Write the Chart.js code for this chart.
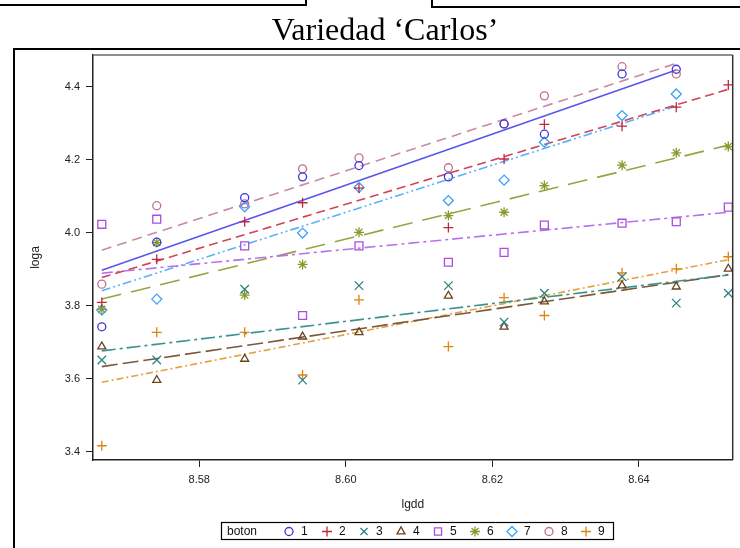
<!DOCTYPE html>
<html><head><meta charset="utf-8">
<script src="https://cdn.jsdelivr.net/npm/chart.js@4.4.1/dist/chart.umd.min.js"></script>
<style>html,body{margin:0;padding:0;background:#fff}#wrap{width:740px;height:548px;position:relative}canvas{display:block}</style>
</head><body><div id="wrap"><canvas id="c" width="740" height="548"></canvas></div>
<script>
// ---- data ----
const lgdd = [8.5667, 8.5742, 8.5862, 8.5941, 8.6018, 8.6140, 8.6216, 8.6271, 8.6377, 8.6451, 8.6522];
const boton1 = [3.742, 3.974, 4.096, 4.153, 4.184, 4.153, 4.298, 4.270, 4.435, 4.448, null];
const boton2 = [3.809, 3.927, 4.030, 4.082, 4.122, 4.014, 4.202, 4.297, 4.292, 4.344, 4.405];
const boton3 = [3.651, 3.651, 3.845, 3.596, 3.855, 3.855, 3.755, 3.834, 3.879, 3.807, 3.834];
const boton4 = [3.688, 3.596, 3.654, 3.715, 3.727, 3.827, 3.742, 3.811, 3.855, 3.852, 3.901];
const boton5 = [4.023, 4.037, 3.964, 3.773, 3.964, 3.919, 3.946, 4.021, 4.026, 4.030, 4.070];
const boton6 = [3.790, 3.973, 3.829, 3.913, 4.001, 4.047, 4.056, 4.129, 4.185, 4.219, 4.236];
const boton7 = [3.788, 3.818, 4.071, 3.999, 4.124, 4.088, 4.144, 4.248, 4.321, 4.380, null];
const boton8 = [3.859, 4.074, 4.079, 4.175, 4.205, 4.178, 4.298, 4.375, 4.455, 4.435, null];
const boton9 = [3.416, 3.727, 3.727, 3.610, 3.816, 3.688, 3.822, 3.773, 3.890, 3.901, 3.934];
const botonLabels = ['1', '2', '3', '4', '5', '6', '7', '8', '9'];
// fitted regression lines: value at first and last lgdd of each group
const fitStart = [3.897, 3.877, 3.676, 3.633, 3.889, 3.818, 3.841, 3.952, 3.590];
const fitEnd   = [4.446, 4.393, 3.884, 3.885, 4.056, 4.240, 4.347, 4.464, 3.926];
const yTicks = [3.4, 3.6, 3.8, 4.0, 4.2, 4.4];
const xTicks = [8.58, 8.60, 8.62, 8.64];
const titleText = 'Variedad \u2018Carlos\u2019';

// ---- styles ----
const series = [boton1, boton2, boton3, boton4, boton5, boton6, boton7, boton8, boton9];
const colors = ['#3b36e0', '#c0283c', '#2a8480', '#6a4420', '#a84ee0', '#8a9a2a', '#3aa2fa', '#c0708f', '#de8410'];
const lineColors = ['#5a55ee', '#d04456', '#3a938d', '#7a5838', '#b870ee', '#97a540', '#58b2fb', '#c98aa3', '#e5a040'];
const pStyles = ['circle', 'cross', 'crossRot', 'triangle', 'rect', 'star', 'rectRot', 'circle', 'cross'];
const pRadius = [4, 5, 6, 4.6, 5.6, 5, 5, 4, 5];
const dashes = [[], [9, 5], [14, 4, 3, 4], [16, 5], [11, 4, 3, 4], [20, 10], [9, 3, 2, 3, 2, 3], [10, 6], [7, 3, 2, 3]];

const datasets = [];
series.forEach((s, i) => {
  const pts = [];
  s.forEach((v, j) => { if (v !== null) pts.push({x: lgdd[j], y: v}); });
  const last = pts[pts.length - 1].x;
  datasets.push({
    type: 'line', label: 'fit' + botonLabels[i],
    data: [{x: pts[0].x, y: fitStart[i]}, {x: last, y: fitEnd[i]}],
    borderColor: lineColors[i], borderWidth: 1.6, borderDash: dashes[i],
    pointRadius: 0, fill: false, tension: 0, order: 2
  });
  datasets.push({
    type: 'scatter', label: botonLabels[i], data: pts,
    pointStyle: pStyles[i], pointRadius: pRadius[i], pointBorderWidth: 1.3,
    borderColor: colors[i], backgroundColor: 'rgba(0,0,0,0)',
    pointBackgroundColor: 'rgba(0,0,0,0)', pointBorderColor: colors[i], order: 1
  });
});

const deco = {
  id: 'deco',
  beforeDraw(chart) {
    const c = chart.ctx;
    c.save();
    c.fillStyle = '#fff';
    c.fillRect(0, 0, chart.width, chart.height);
    c.restore();
  },
  afterDraw(chart) {
    const c = chart.ctx, a = chart.chartArea;
    c.save();
    // fragments of neighbouring frames at the top
    c.strokeStyle = '#000'; c.lineWidth = 2;
    c.beginPath(); c.moveTo(0, 5); c.lineTo(306, 5); c.lineTo(306, 0); c.stroke();
    c.beginPath(); c.moveTo(432, 0); c.lineTo(432, 7); c.lineTo(740, 7); c.stroke();
    // outer frame
    c.beginPath(); c.moveTo(14, 548); c.lineTo(14, 49); c.lineTo(742, 49); c.stroke();
    // title
    c.fillStyle = '#000';
    c.font = '32px "Liberation Serif"';
    c.textAlign = 'center'; c.textBaseline = 'alphabetic';
    c.fillText(titleText, 385, 40);
    // plot frame top/right
    c.lineWidth = 1.5; c.strokeStyle = '#6a6a6a';
    c.beginPath(); c.moveTo(a.left, a.top); c.lineTo(a.right, a.top); c.stroke();
    c.strokeStyle = '#333';
    c.beginPath(); c.moveTo(a.right, a.top); c.lineTo(a.right, a.bottom); c.stroke();
    // legend
    const lx = 221, ly = 522, lw = 392, lh = 17;
    c.strokeStyle = '#000'; c.lineWidth = 1.2;
    c.strokeRect(lx + 0.5, ly + 0.5, lw, lh);
    c.font = '12px "Liberation Sans"'; c.textAlign = 'left'; c.textBaseline = 'middle';
    c.fillStyle = '#111';
    const cy = ly + lh / 2 + 1;
    c.fillText('boton', 227, cy);
    const markX = [289, 327, 364, 401, 438, 475, 512, 549, 586];
    markX.forEach((mx, i) => {
      c.strokeStyle = colors[i]; c.fillStyle = 'rgba(0,0,0,0)'; c.lineWidth = 1.3;
      if (Chart.helpers && Chart.helpers.drawPoint) {
        Chart.helpers.drawPoint(c, {pointStyle: pStyles[i], radius: Math.min(pRadius[i], 5), rotation: 0, borderWidth: 1.3}, mx, cy);
      }
      c.fillStyle = '#111';
      c.fillText(botonLabels[i], mx + 12, cy);
    });
    c.restore();
  }
};

new Chart(document.getElementById('c'), {
  type: 'scatter',
  data: {datasets},
  plugins: [deco],
  options: {
    responsive: false, animation: false, devicePixelRatio: 1,
    layout: {padding: {left: 14, right: 2, top: 55, bottom: 28}},
    plugins: {legend: {display: false}, tooltip: {enabled: false}, title: {display: false}},
    scales: {
      x: {
        type: 'linear', min: 8.5655, max: 8.6528,
        afterBuildTicks: s => { s.ticks = xTicks.map(v => ({value: v})); },
        afterFit: s => { s.height = 60; },
        grid: {drawOnChartArea: false, drawTicks: true, tickLength: 7, color: '#222', tickWidth: 1},
        border: {display: true, color: '#222', width: 1.5},
        ticks: {padding: 6, color: '#222', font: {family: 'Liberation Sans', size: 11}, maxRotation: 0,
          callback: v => Number(v).toFixed(2)},
        title: {display: true, text: 'lgdd', color: '#222', font: {family: 'Liberation Sans', size: 12}, padding: {top: 0, bottom: 8}}
      },
      y: {
        type: 'linear', min: 3.377, max: 4.487,
        afterBuildTicks: s => { s.ticks = yTicks.map(v => ({value: v})); },
        afterFit: s => { s.width = 79; },
        grid: {drawOnChartArea: false, drawTicks: true, tickLength: 7, color: '#222', tickWidth: 1},
        border: {display: true, color: '#222', width: 1.5},
        ticks: {padding: 6, color: '#222', font: {family: 'Liberation Sans', size: 11},
          callback: v => Number(v).toFixed(1)},
        title: {display: true, text: 'loga', color: '#222', font: {family: 'Liberation Sans', size: 12}, padding: {top: 14, bottom: 0}}
      }
    }
  }
});
</script></body></html>
